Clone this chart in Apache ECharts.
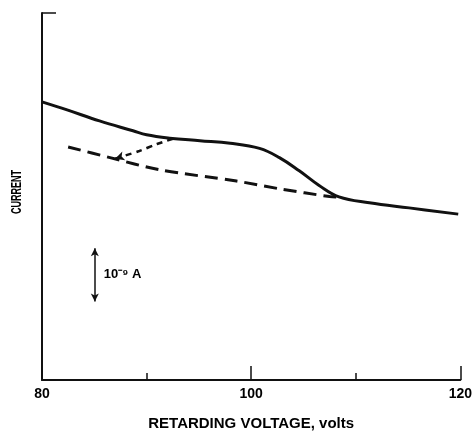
<!DOCTYPE html>
<html>
<head>
<meta charset="utf-8">
<script src="https://cdn.jsdelivr.net/npm/echarts@6/dist/echarts.min.js"></script>
<style>html,body{margin:0;padding:0;background:#fff}#c{width:475px;height:436px}</style>
</head>
<body>
<div id="c"></div>
<script>
// Data (volts, current in arbitrary units)
var solidVolts = [80, 82.4, 85.5, 88.7, 90, 92.2, 95.1, 98, 100.8, 102.7, 104.6, 106.5, 108.4, 111.3, 115.1, 119.8];
var solidCurrent = [75.8, 73.6, 70.6, 67.9, 66.8, 65.9, 65.2, 64.5, 63.1, 60.6, 57.0, 53.0, 49.9, 48.3, 46.9, 45.2];
var longDashVolts = [82.5, 86.5, 91.2, 98.6, 102.7, 107.5, 108.6];
var longDashCurrent = [63.5, 60.6, 57.3, 54.2, 52.1, 50.0, 49.8];
var shortDashVolts = [87.0, 89.3, 91.0, 92.6];
var shortDashCurrent = [60.3, 62.4, 64.3, 65.8];
var scaleBarVolt = 85.05;
var scaleBarCurrent = [35.9, 21.4];
var scaleBarLabel = '10\u207B\u2079 A';
var xTicks = [80, 100, 120];
var xAxisName = 'RETARDING VOLTAGE, volts';
var yAxisName = 'CURRENT';

function pairs(xs, ys) { return xs.map(function (x, i) { return [x, ys[i]]; }); }

var FONT = '"Liberation Sans", Arial, Helvetica, sans-serif';
var chart = echarts.init(document.getElementById('c'));
chart.setOption({
  animation: false,
  grid: { left: 42, right: 14, top: 13, bottom: 50 },
  xAxis: {
    type: 'value', min: xTicks[0], max: xTicks[xTicks.length - 1], interval: xTicks[1] - xTicks[0],
    name: xAxisName, nameLocation: 'middle', nameGap: 36,
    nameTextStyle: { fontFamily: FONT, fontWeight: 'bold', fontSize: 15, color: '#000' },
    axisLine: { lineStyle: { color: '#111', width: 2 } },
    axisTick: { inside: true, length: 14, lineStyle: { color: '#111', width: 1.5 } },
    minorTick: { show: true, splitNumber: 2, length: 7, lineStyle: { color: '#111', width: 1.5 } },
    axisLabel: { fontFamily: FONT, fontWeight: 'bold', fontSize: 14, color: '#000', margin: 7 },
    splitLine: { show: false }
  },
  yAxis: {
    type: 'value', min: 0, max: 100, interval: 100,
    axisLine: { show: true, lineStyle: { color: '#111', width: 2 } },
    axisTick: { show: true, inside: true, length: 14, lineStyle: { color: '#111', width: 1.5 } },
    axisLabel: { show: false },
    splitLine: { show: false }
  },
  graphic: [{
    type: 'text', x: 17, y: 192, rotation: Math.PI / 2, scaleX: 0.6,
    style: { text: yAxisName, font: 'bold 15px ' + FONT, fill: '#000', align: 'center', verticalAlign: 'middle' }
  }],
  series: [
    {
      type: 'line', data: pairs(solidVolts, solidCurrent), smooth: 0.4, symbol: 'none',
      lineStyle: { color: '#111', width: 3 }, z: 3
    },
    {
      type: 'line', data: pairs(longDashVolts, longDashCurrent), smooth: 0.3, symbol: 'none',
      lineStyle: { color: '#111', width: 3, type: [13, 7] }, z: 2
    },
    {
      type: 'line', data: pairs(shortDashVolts, shortDashCurrent), smooth: 0.3, symbol: 'none',
      lineStyle: { color: '#111', width: 2.5, type: [6, 5] }, z: 2
    },
    {
      type: 'scatter', data: [[shortDashVolts[0], shortDashCurrent[0]]],
      symbol: 'arrow', symbolSize: [7, 9], symbolRotate: 108,
      itemStyle: { color: '#111', opacity: 1 }, z: 4
    },
    {
      type: 'scatter', symbolSize: 0,
      data: [[scaleBarVolt, (scaleBarCurrent[0] + scaleBarCurrent[1]) / 2]],
      itemStyle: { color: '#000', opacity: 1 },
      label: { show: true, position: 'right', distance: 9, formatter: scaleBarLabel,
               fontFamily: FONT, fontWeight: 'bold', fontSize: 13, color: '#000', opacity: 1 },
      markLine: {
        silent: true, symbol: ['arrow', 'arrow'], symbolSize: [6, 8],
        lineStyle: { color: '#111', width: 1.5, type: 'solid' }, label: { show: false },
        data: [[{ coord: [scaleBarVolt, scaleBarCurrent[0]] }, { coord: [scaleBarVolt, scaleBarCurrent[1]] }]]
      }
    }
  ]
});
</script>
</body>
</html>
